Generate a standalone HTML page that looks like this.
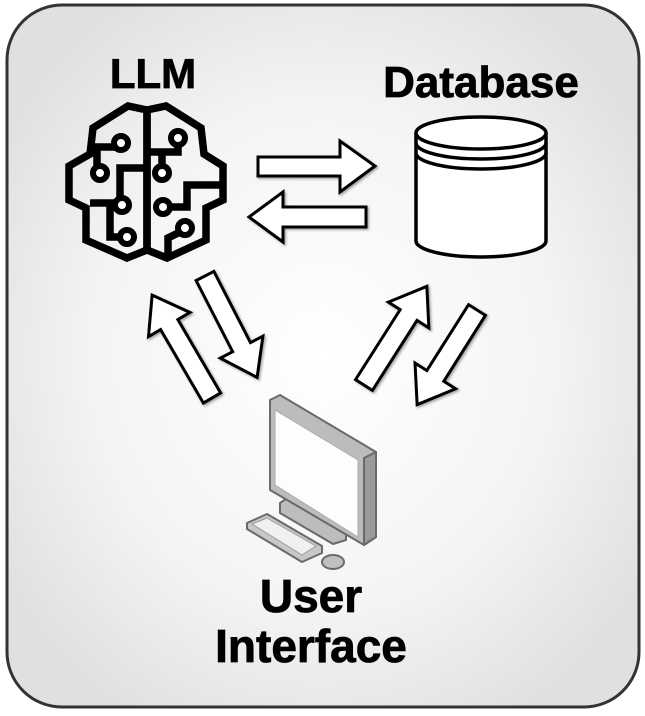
<!DOCTYPE html>
<html><head><meta charset="utf-8"><style>
html,body{margin:0;padding:0;background:#fff;}
svg{display:block;}
text{font-family:"Liberation Sans",sans-serif;font-weight:bold;fill:#000;stroke:#000;stroke-width:0.8;}
</style></head><body>
<svg width="645" height="716" viewBox="0 0 645 716" xmlns="http://www.w3.org/2000/svg">
<defs>
<radialGradient id="bg" cx="50%" cy="50%" r="60%">
<stop offset="0" stop-color="#ffffff"/><stop offset="0.6" stop-color="#f4f4f4"/><stop offset="1" stop-color="#e0e0e0"/>
</radialGradient>
<filter id="sh" x="-20%" y="-20%" width="140%" height="140%"><feDropShadow dx="1.5" dy="1.5" stdDeviation="1.2" flood-color="#000" flood-opacity="0.35"/></filter>
</defs>
<rect x="7" y="5" width="632" height="702" rx="55" fill="url(#bg)" stroke="#333" stroke-width="3"/>

<text x="153" y="88" font-size="42" text-anchor="middle">LLM</text>
<text x="481" y="97" font-size="44" text-anchor="middle">Database</text>
<text x="311" y="612" font-size="46" text-anchor="middle">User</text>
<text x="311" y="662" font-size="46" text-anchor="middle">Interface</text>

<!-- brain -->
<g fill="none" stroke="#000" stroke-width="7.5" stroke-linejoin="miter" stroke-linecap="butt">
<path d="M147,110 L128,106 L93,128 L90,154 L69,166 L69,200 L86,208 L86,240 L127,258 L147,250 Z"/>
<path d="M147,110 L166,106 L201,128 L204,154 L223,166 L223,200 L206,208 L206,240 L167,258 L147,250 Z"/>
<path d="M97,166 L97,147 L115,147"/>
<path d="M147,168 L120,168 L120,198"/>
<path d="M90,203 L110,203 L110,237 L120,237"/>
<path d="M178,145 L178,152 L147,152"/>
<path d="M162,152 L162,166"/>
<path d="M170,207 L187,207 L187,185 L223,185"/>
<path d="M180,232 L168,238 L168,256"/>
</g>
<g fill="#fff" stroke="#000" stroke-width="6">
<circle cx="121" cy="143" r="7"/><circle cx="100" cy="173" r="7"/><circle cx="122" cy="205" r="7"/><circle cx="127" cy="237" r="7"/>
<circle cx="178" cy="138" r="7"/><circle cx="162" cy="173" r="7"/><circle cx="163" cy="207" r="7"/><circle cx="185" cy="228" r="7"/>
</g>

<!-- database -->
<g stroke="#000" stroke-width="3.5" fill="#fff">
<path d="M416,133 L416,241 A65,16 0 0 0 546,241 L546,133"/>
<ellipse cx="481" cy="133" rx="65" ry="16"/>
<path d="M416,143 A65,16 0 0 0 546,143" fill="none"/>
<path d="M416,153 A65,16 0 0 0 546,153" fill="none"/>
</g>

<!-- arrows -->
<g fill="#fff" stroke="#000" stroke-width="3" stroke-linejoin="miter" filter="url(#sh)">
<polygon points="258,157 340,157 340,141 375,166 340,192 340,176 258,176"/>
<polygon points="366,207 283,207 283,192 249,217 283,242 283,227 366,227"/>
<g transform="translate(212,398) rotate(-120.2)"><polygon points="0,-10 85,-10 85,-24 119,0 85,24 85,10 0,10"/></g>
<g transform="translate(205,276) rotate(62.8)"><polygon points="0,-10 80,-10 80,-24 114,0 80,24 80,10 0,10"/></g>
<g transform="translate(364,385) rotate(-57.5)"><polygon points="0,-10 83,-10 83,-24 117,0 83,24 83,10 0,10"/></g>
<g transform="translate(477,310) rotate(122.3)"><polygon points="0,-10 78,-10 78,-24 112,0 78,24 78,10 0,10"/></g>
</g>

<!-- computer -->
<g stroke="#6a6a6a" stroke-width="2" stroke-linejoin="round">
<polygon points="280,503 286,499 346,532 346,540 333,544 280,513" fill="#bdbdbd"/>
<polygon points="247,523 267,514 322,546 322,553 302,562 247,529" fill="#c8c8c8"/>
<polygon points="252,524 267,518 316,546 302,555" fill="#f0f0f0" stroke="#999" stroke-width="1"/>
<ellipse cx="333" cy="562" rx="11" ry="7" fill="#c0c0c0"/>
<polygon points="270,400 280,395 376,452 376,537 364,545 270,490" fill="#bcbcbc"/>
<polygon points="364,458 376,452 376,537 364,545" fill="#9a9a9a"/>
<polygon points="275,410 358,460 358,537 275,485" fill="#fdfdfd" stroke="#aaa" stroke-width="1"/>
</g>
</svg>
</body></html>
